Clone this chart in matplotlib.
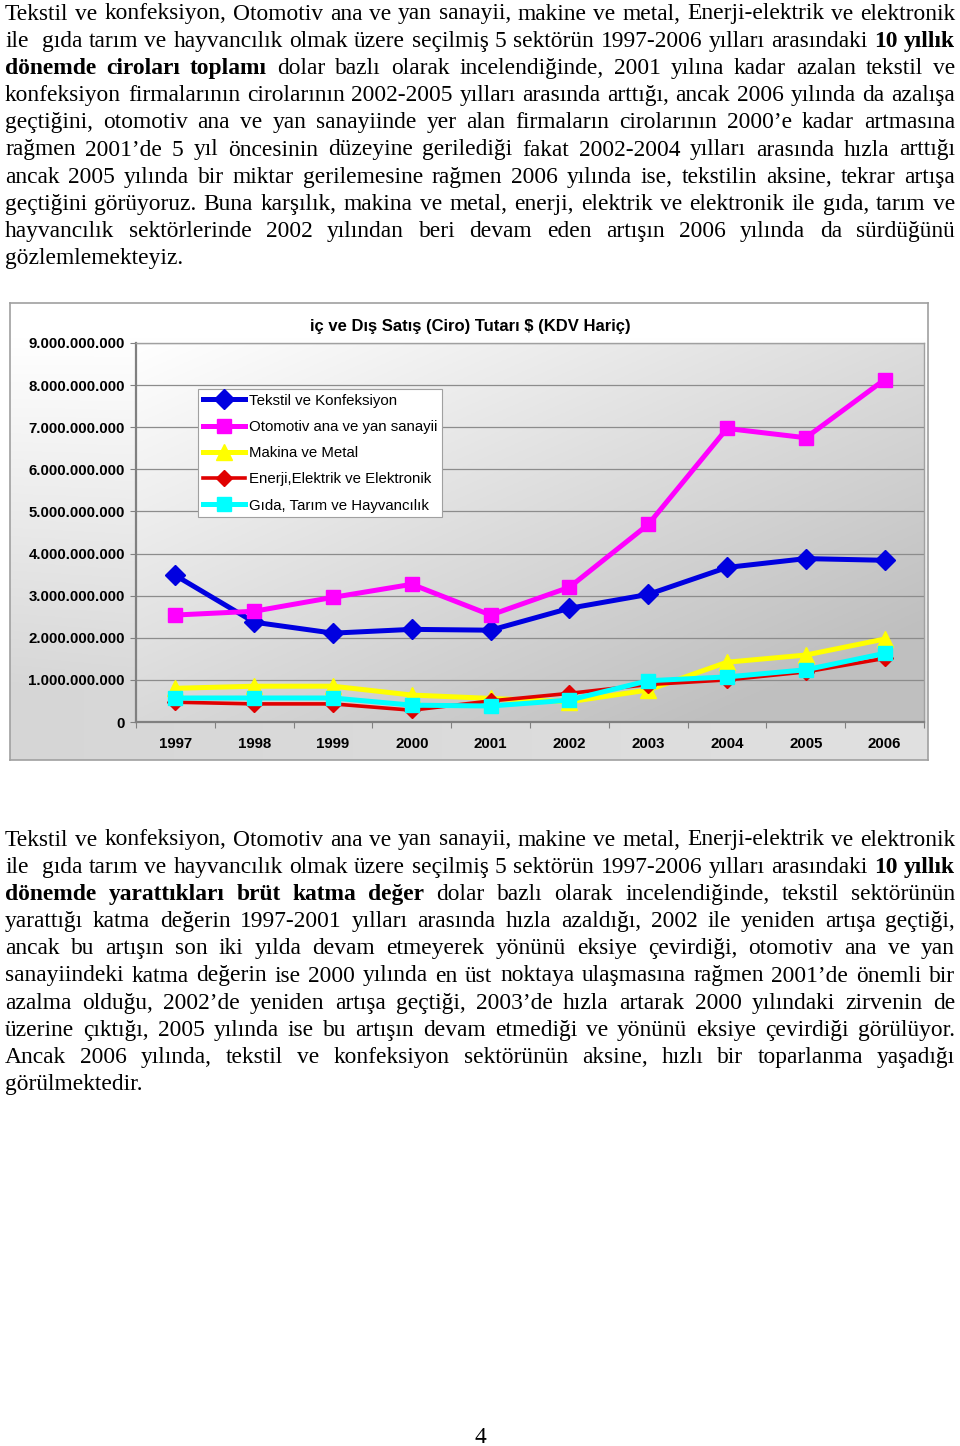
import numpy as np
import matplotlib.pyplot as plt
from matplotlib.ticker import FixedLocator, FuncFormatter

# chart data (USD)
years = ['1997', '1998', '1999', '2000', '2001', '2002', '2003', '2004', '2005', '2006']
tekstil = [3.48e9, 2.37e9, 2.11e9, 2.20e9, 2.18e9, 2.70e9, 3.03e9, 3.67e9, 3.88e9, 3.84e9]
otomotiv = [2.54e9, 2.63e9, 2.96e9, 3.27e9, 2.54e9, 3.20e9, 4.69e9, 6.97e9, 6.75e9, 8.13e9]
makina = [0.80e9, 0.85e9, 0.85e9, 0.64e9, 0.56e9, 0.48e9, 0.76e9, 1.42e9, 1.59e9, 1.97e9]
enerji = [0.47e9, 0.43e9, 0.43e9, 0.28e9, 0.50e9, 0.68e9, 0.89e9, 1.00e9, 1.19e9, 1.51e9]
gida = [0.57e9, 0.57e9, 0.57e9, 0.40e9, 0.38e9, 0.52e9, 0.98e9, 1.07e9, 1.24e9, 1.63e9]
series_names = ['Tekstil ve Konfeksiyon', 'Otomotiv ana ve yan sanayii', 'Makina ve Metal',
                'Enerji,Elektrik ve Elektronik', 'Gıda, Tarım ve Hayvancılık']
chart_title = 'iç ve Dış Satış (Ciro) Tutarı $ (KDV Hariç)'

# page text, (text, bold) segments per line
para1 = [
    [('Tekstil ve konfeksiyon, Otomotiv ana ve yan sanayii, makine ve metal, Enerji-elektrik ve elektronik', False)],
    [('ile  gıda tarım ve hayvancılık olmak üzere seçilmiş 5 sektörün 1997-2006 yılları arasındaki', False), ('10 yıllık', True)],
    [('dönemde ciroları toplamı', True), ('dolar bazlı olarak incelendiğinde, 2001 yılına kadar azalan tekstil ve', False)],
    [('konfeksiyon firmalarının cirolarının 2002-2005 yılları arasında arttığı, ancak 2006 yılında da azalışa', False)],
    [('geçtiğini, otomotiv ana ve yan sanayiinde yer alan firmaların cirolarının 2000’e kadar artmasına', False)],
    [('rağmen 2001’de 5 yıl öncesinin düzeyine gerilediği fakat 2002-2004 yılları arasında hızla arttığı', False)],
    [('ancak 2005 yılında bir miktar gerilemesine rağmen 2006 yılında ise, tekstilin aksine, tekrar artışa', False)],
    [('geçtiğini görüyoruz. Buna karşılık, makina ve metal, enerji, elektrik ve elektronik ile gıda, tarım ve', False)],
    [('hayvancılık sektörlerinde 2002 yılından beri devam eden artışın 2006 yılında da sürdüğünü', False)],
    [('gözlemlemekteyiz.', False)],
]
para2 = [
    [('Tekstil ve konfeksiyon, Otomotiv ana ve yan sanayii, makine ve metal, Enerji-elektrik ve elektronik', False)],
    [('ile  gıda tarım ve hayvancılık olmak üzere seçilmiş 5 sektörün 1997-2006 yılları arasındaki', False), ('10 yıllık', True)],
    [('dönemde yarattıkları brüt katma değer', True), ('dolar bazlı olarak incelendiğinde, tekstil sektörünün', False)],
    [('yarattığı katma değerin 1997-2001 yılları arasında hızla azaldığı, 2002 ile yeniden artışa geçtiği,', False)],
    [('ancak bu artışın son iki yılda devam etmeyerek yönünü eksiye çevirdiği, otomotiv ana ve yan', False)],
    [('sanayiindeki katma değerin ise 2000 yılında en üst noktaya ulaşmasına rağmen 2001’de önemli bir', False)],
    [('azalma olduğu, 2002’de yeniden artışa geçtiği, 2003’de hızla artarak 2000 yılındaki zirvenin de', False)],
    [('üzerine çıktığı, 2005 yılında ise bu artışın devam etmediği ve yönünü eksiye çevirdiği görülüyor.', False)],
    [('Ancak 2006 yılında, tekstil ve konfeksiyon sektörünün aksine, hızlı bir toparlanma yaşadığı', False)],
    [('görülmektedir.', False)],
]

W, H = 960, 1446
fig = plt.figure(figsize=(W / 100, H / 100), dpi=100)
renderer = fig.canvas.get_renderer()
SERIF = 'Liberation Serif'
SANS = 'Liberation Sans'
FS = 16.9


def rect(x0, y0, x1, y1):
    return [x0 / W, 1 - y1 / H, (x1 - x0) / W, (y1 - y0) / H]


def write_para(lines, y0, left=5, right=955, step=27.2):
    for i, segs in enumerate(lines):
        y = y0 + i * step
        words = []
        for text, bold in segs:
            for w in text.split(' '):
                words.append((w, bold))
        texts = [fig.text(0, 1 - y / H, w, fontsize=FS, family=SERIF,
                          fontweight='bold' if b else 'normal', va='baseline')
                 for w, b in words]
        widths = [t.get_window_extent(renderer).width if t.get_text() else 0 for t in texts]
        last = i == len(lines) - 1
        if last or len(texts) == 1:
            gap = FS * 0.25 * 100 / 72
        else:
            gap = (right - left - sum(widths)) / (len(texts) - 1)
        x = left
        for t, wd in zip(texts, widths):
            t.set_x(x / W)
            x += wd + gap


write_para(para1, 19.5)
write_para(para2, 845.5)
fig.text(480 / W, 1 - 1443 / H, '4', fontsize=FS, family=SERIF, ha='center', va='baseline')

# outer chart frame with soft gradient
frame = fig.add_axes(rect(10, 303, 928, 760))
gx, gy = np.meshgrid(np.linspace(0, 1, 200), np.linspace(0, 1, 200))
shade = 1 - 0.16 * np.clip(gy * 1.3 - 0.1, 0, 1) * (0.75 + 0.25 * (1 - gx))
frame.imshow(np.dstack([shade] * 3), extent=(0, 1, 0, 1), aspect='auto', origin='upper')
frame.set_xticks([])
frame.set_yticks([])
for s in frame.spines.values():
    s.set_color('#a0a0a0')
    s.set_linewidth(1.2)

ax = fig.add_axes(rect(136, 343, 924, 722))
shade2 = 1 - 0.25 * np.clip(0.55 * gx + 0.6 * gy, 0, 1)
ax.imshow(np.dstack([shade2] * 3), extent=(0, 1, 0, 1), aspect='auto', origin='upper',
          transform=ax.transAxes, zorder=0)

x = np.arange(len(years))
ax.plot(x, tekstil, color='#0000e0', lw=3.6, marker='D', ms=10, zorder=3, label=series_names[0])
ax.plot(x, otomotiv, color='#ff00ff', lw=3.6, marker='s', ms=10.5, zorder=3, label=series_names[1])
ax.plot(x, makina, color='#ffff00', lw=3.6, marker='^', ms=12, zorder=3, label=series_names[2])
ax.plot(x, enerji, color='#e00000', lw=2.6, marker='D', ms=8.5, zorder=3, label=series_names[3])
ax.plot(x, gida, color='#00ffff', lw=3.6, marker='s', ms=10.5, zorder=3, label=series_names[4])

ax.set_xlim(-0.5, len(years) - 0.5)
ax.set_ylim(0, 9e9)
ax.yaxis.set_major_locator(FixedLocator(np.arange(0, 9.5e9, 1e9)))
ax.yaxis.set_major_formatter(FuncFormatter(lambda v, p: f'{int(round(v)):,}'.replace(',', '.')))
ax.grid(axis='y', color='#8c8c8c', lw=0.9, zorder=1)
ax.set_axisbelow(True)
ax.xaxis.set_major_locator(FixedLocator(np.arange(-0.5, len(years), 1.0)))
ax.xaxis.set_major_formatter(FuncFormatter(lambda v, p: ''))
ax.xaxis.set_minor_locator(FixedLocator(x))
ax.set_xticklabels(years, minor=True)
ax.tick_params(axis='x', which='major', length=4, color='#808080', direction='out')
ax.tick_params(axis='x', which='minor', length=0, pad=11, labelsize=10.8)
ax.tick_params(axis='y', length=4, color='#808080', pad=4, labelsize=10.8)
for lab in ax.get_xticklabels(minor=True) + ax.get_yticklabels():
    lab.set_fontweight('bold')
    lab.set_family(SANS)
for side in ['left', 'bottom']:
    ax.spines[side].set_color('#808080')
    ax.spines[side].set_linewidth(1.6)
for side in ['top', 'right']:
    ax.spines[side].set_color('#a0a0a0')
    ax.spines[side].set_linewidth(1.0)

fig.text(470 / W, 1 - 326 / H, chart_title, fontsize=12, fontweight='bold', family=SANS,
         ha='center', va='center')

leg = ax.legend(loc='upper left', bbox_to_anchor=((198 - 136) / 788, (722 - 389) / 379),
                borderaxespad=0, fancybox=False, framealpha=1, edgecolor='#a0a0a0',
                prop={'family': SANS, 'size': 10.8}, handlelength=2.8, handletextpad=0.3,
                labelspacing=0.82, borderpad=0.3)
leg.get_frame().set_linewidth(0.8)

fig.savefig('out.png', dpi=100)
